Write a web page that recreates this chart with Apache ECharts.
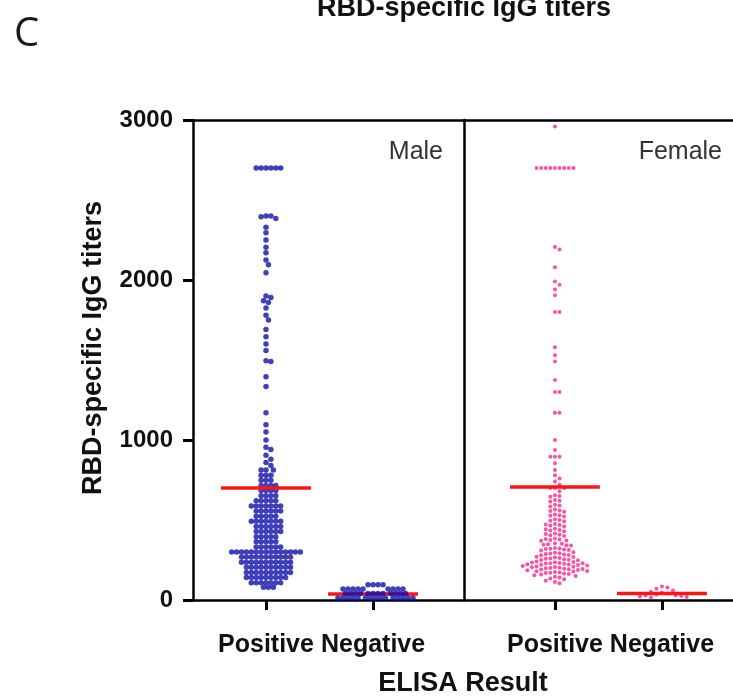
<!DOCTYPE html>
<html>
<head>
<meta charset="utf-8">
<script src="https://cdn.jsdelivr.net/npm/echarts@6/dist/echarts.min.js"></script>
<style>
html,body{margin:0;padding:0;background:#fff;}
#chart{width:733px;height:698px;}
</style>
</head>
<body>
<div id="chart"></div>
<script>
// ---------- data ----------
const categories = ['Positive', 'Negative'];
const yTicks = [0, 1000, 2000, 3000];

const malePositive = [
  2700,2700,2700,2700,2700,2700,
  2400,2400,2395,2385,2330,2295,2250,2205,2170,2125,2095,2045,
  1900,1890,1870,1860,1825,1780,1750,1690,1645,1600,1560,1495,1490,1395,1335,
  1170,1095,1050,1000,955,940,905,880,860,840,
  812,812,812, 780,780,780, 748,748,748, 716,716,716,716,
  684,684,684,684, 652,652,652,652, 620,620,620,620,620,
  588,588,588,588,588,588,588, 556,556,556,556,556,556,
  524,524,524,524,524, 492,492,492,492,492,492,492,
  460,460,460,460,460,460, 428,428,428,428,428,428,
  396,396,396,396,396, 364,364,364,364,364,
  332,332,332,332,332,332,
  300,300,300,300,300,300,300,300,300,300,300,300,300,300,300,
  268,268,268,268,268,268,268,268,268,268,268,
  236,236,236,236,236,236,236,236,236,236,236,
  204,204,204,204,204,204,204,204,204,204,
  172,172,172,172,172,172,172,172,172,172,
  140,140,140,140,140,140,140,140,140,
  108,108,108,108,108,108,108,
  80,80,80
];
const maleNegative = [
  95,95,95,95,
  68,68,68,68,68,68,68,68,68,
  40,40,40,40,40,40,40,40,40,40,40,40,
  12,12,12,12,12,12,12,12,12,12,12,12,12,12,12
];
const femalePositive = [
  2960,
  2700,2700,2700,2700,2700,2700,2700,2700,2700,
  2206,2190,2080,1990,1970,1940,1905,1800,1800,1580,1530,1490,1375,1300,1300,
  1170,1170,1000,937,895,895,895,855,812,
  780,760,740,720,700,700,700,680,
  655,650,645,625,620,615,595,590,585,565,560,556,552,
  535,530,527,522,505,500,496,492,475,472,468,465,460,
  445,442,438,435,430,415,412,408,405,400,
  385,382,378,375,372,370,355,352,348,345,342,340,
  325,322,320,318,315,312,310,298,295,292,290,288,285,282,280,
  270,268,265,262,260,258,255,252,250,248,
  240,238,236,234,232,230,230,228,226,224,222,220,218,216,
  212,210,208,206,204,202,200,198,196,194,192,190,188,186,
  182,180,178,175,172,170,168,165,162,160,
  155,150,145,140,135,130,120,112,105
];
const femaleNegative = [85,78,70,60,52,45,40,35,30,28,25,22,18,15];

const meanMale = [700, 37];     // red mean lines, male panel
const meanFemale = [706, 40];   // red mean lines, female panel

// ---------- layout / style ----------
const GRID_TOP = 120, GRID_H = 480;
const PX_PER_Y = GRID_H / 3000;
const PX_PER_X = 107;
const MALE_X = {min: -0.682, max: 1.850};
const FEMALE_X = {min: -0.850, max: 1.664};
const HALF_LINE = 0.42;

// beeswarm layout: place each point at the nearest free horizontal offset
function swarm(values, cat, dist) {
  const placed = [];
  const out = [];
  const step = dist / 2;
  values.forEach(v => {
    const py = v * PX_PER_Y;
    let k = 0, off = 0;
    while (true) {
      const cand = k === 0 ? 0 : (k % 2 === 1 ? 1 : -1) * Math.ceil(k / 2) * step;
      let ok = true;
      for (const p of placed) {
        const dx = p[0] - cand, dy = p[1] - py;
        if (dx * dx + dy * dy < dist * dist - 0.01) { ok = false; break; }
      }
      if (ok) { off = cand; break; }
      k++;
    }
    placed.push([off, py]);
    out.push([cat + off / PX_PER_X, v]);
  });
  return out;
}

const FONT = '"Liberation Sans", Arial, sans-serif';
const BLUE = '#1010aa';
const PINK = '#f7288c';
const RED = '#ff1414';

function bottomAxis(grid, range) {
  return {
    gridIndex: grid, type: 'value', position: 'bottom',
    min: range.min, max: range.max,
    axisLine: {show: true, onZero: false, lineStyle: {color: '#000', width: 2.5}},
    axisTick: {show: true, customValues: [0, 1], length: 10, lineStyle: {color: '#000', width: 3}},
    axisLabel: {show: true, customValues: [0, 1], margin: 33,
      formatter: v => categories[Math.round(v)] || '',
      fontFamily: FONT, fontWeight: 'bold', fontSize: 25, color: '#111'},
    splitLine: {show: false}
  };
}
function topAxis(grid, range) {
  return {
    gridIndex: grid, type: 'value', position: 'top',
    min: range.min, max: range.max,
    axisLine: {show: true, onZero: false, lineStyle: {color: '#000', width: 2.5}},
    axisTick: {show: false}, axisLabel: {show: false}, splitLine: {show: false}
  };
}
function meanLine(xi, yi, cat, m, z) {
  return {
    type: 'line', xAxisIndex: xi, yAxisIndex: yi, z: z,
    data: [[cat - HALF_LINE, m], [cat + HALF_LINE, m]],
    symbol: 'none', silent: true,
    lineStyle: {color: RED, width: 3.5}
  };
}

const chart = echarts.init(document.getElementById('chart'));
chart.setOption({
  animation: false,
  backgroundColor: '#fff',
  grid: [
    {left: 193, top: GRID_TOP, width: 271, height: GRID_H},
    {left: 464, top: GRID_TOP, width: 269, height: GRID_H}
  ],
  xAxis: [
    bottomAxis(0, MALE_X), bottomAxis(1, FEMALE_X),
    topAxis(0, MALE_X), topAxis(1, FEMALE_X)
  ],
  yAxis: [
    {gridIndex: 0, type: 'value', min: yTicks[0], max: yTicks[yTicks.length - 1], interval: 1000,
      axisLine: {show: true, onZero: false, lineStyle: {color: '#000', width: 2.5}},
      axisTick: {show: true, length: 10, lineStyle: {color: '#000', width: 3}},
      axisLabel: {show: true, margin: 20, formatter: v => String(v),
        fontFamily: FONT, fontWeight: 'bold', fontSize: 24, color: '#111'},
      splitLine: {show: false}},
    {gridIndex: 1, type: 'value', min: yTicks[0], max: yTicks[yTicks.length - 1], interval: 1000,
      axisLine: {show: true, onZero: false, lineStyle: {color: '#000', width: 2.5}},
      axisTick: {show: false}, axisLabel: {show: false}, splitLine: {show: false}}
  ],
  series: [
    {type: 'scatter', xAxisIndex: 0, yAxisIndex: 0, z: 2, symbolSize: 5.5,
      itemStyle: {color: BLUE}, data: swarm(malePositive, 0, 4.9)},
    {type: 'scatter', xAxisIndex: 0, yAxisIndex: 0, z: 2, symbolSize: 5.5,
      itemStyle: {color: BLUE}, data: swarm(maleNegative, 1, 5)},
    {type: 'scatter', xAxisIndex: 1, yAxisIndex: 1, z: 2, symbolSize: 4,
      itemStyle: {color: PINK}, data: swarm(femalePositive, 0, 4.6)},
    {type: 'scatter', xAxisIndex: 1, yAxisIndex: 1, z: 2, symbolSize: 4,
      itemStyle: {color: PINK}, data: swarm(femaleNegative, 1, 5.5)},
    meanLine(0, 0, 0, meanMale[0], 3),
    meanLine(0, 0, 1, meanMale[1], 1),
    meanLine(1, 1, 0, meanFemale[0], 3),
    meanLine(1, 1, 1, meanFemale[1], 3)
  ],
  graphic: [
    {type: 'text', x: 14, y: 15, style: {text: 'C', font: '40px "Open Sans", sans-serif', fill: '#1a1a1a'}},
    {type: 'text', x: 464, y: 9, style: {text: 'RBD-specific IgG titers', font: 'bold 27px ' + FONT,
      fill: '#111', textAlign: 'center', textVerticalAlign: 'middle'}},
    {type: 'text', x: 94, y: 348, rotation: Math.PI / 2, style: {text: 'RBD-specific IgG titers',
      font: 'bold 27px ' + FONT, fill: '#111', textAlign: 'center', textVerticalAlign: 'middle'}},
    {type: 'text', x: 463, y: 684, style: {text: 'ELISA Result', font: 'bold 27px ' + FONT,
      fill: '#111', textAlign: 'center', textVerticalAlign: 'middle'}},
    {type: 'text', x: 443, y: 152, style: {text: 'Male', font: '25px ' + FONT,
      fill: '#333', textAlign: 'right', textVerticalAlign: 'middle'}},
    {type: 'text', x: 722, y: 152, style: {text: 'Female', font: '25px ' + FONT,
      fill: '#333', textAlign: 'right', textVerticalAlign: 'middle'}}
  ]
});
</script>
</body>
</html>
